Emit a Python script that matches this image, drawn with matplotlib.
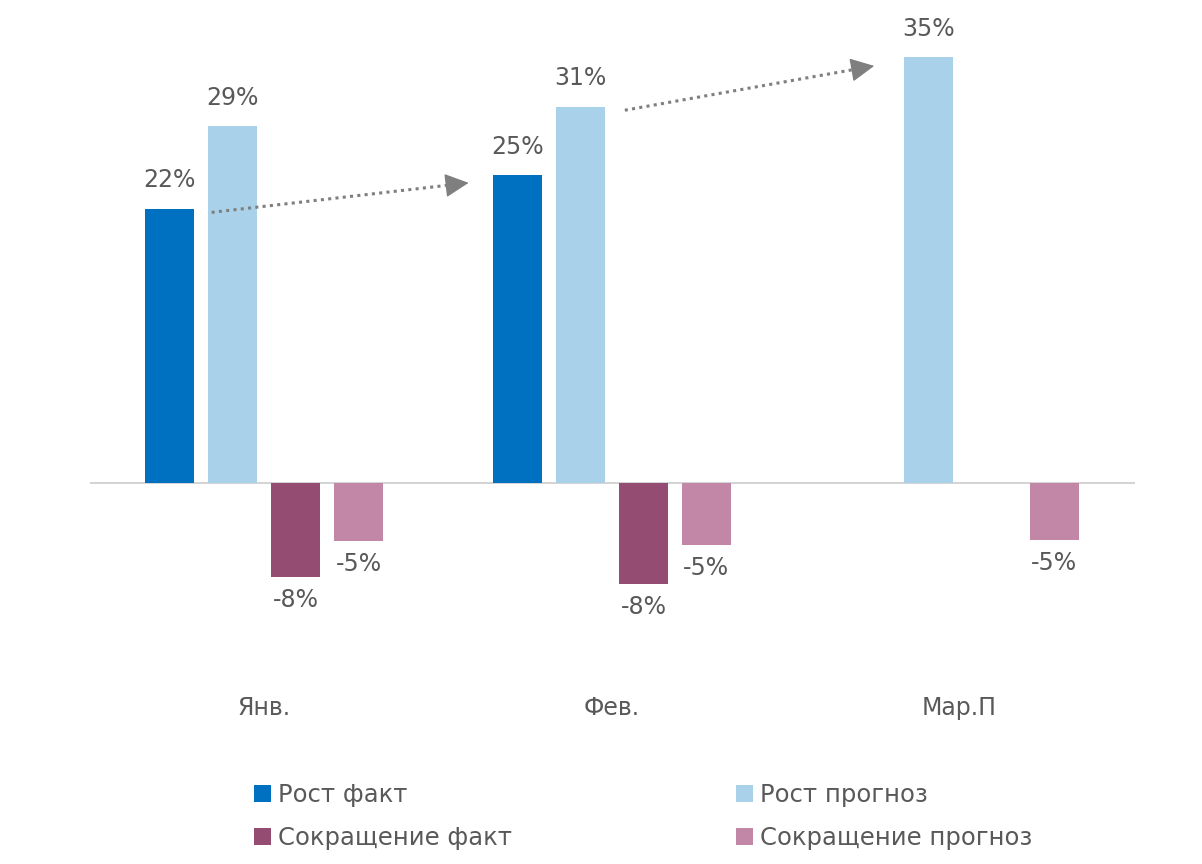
import matplotlib
matplotlib.use("Agg")
import matplotlib.pyplot as plt
import numpy as np
from matplotlib.patches import Patch

months = ["Янв.", "Фев.", "Мар.П"]
series = ["Рост факт", "Рост прогноз", "Сокращение факт", "Сокращение прогноз"]
growth_fact = [22.3, 25.0, np.nan]
growth_fcst = [29.0, 30.6, 34.6]
cut_fact = [-7.6, -8.2, np.nan]
cut_fcst = [-4.7, -5.0, -4.6]
labels_growth_fact = ["22%", "25%", ""]
labels_growth_fcst = ["29%", "31%", "35%"]
labels_cut_fact = ["-8%", "-8%", ""]
labels_cut_fcst = ["-5%", "-5%", "-5%"]

COLORS = ["#0070C0", "#A9D2EA", "#944C72", "#C286A6"]
TXT = "#595959"
ARROW_C = "#7F7F7F"

plt.rcParams["font.family"] = "DejaVu Sans"

fig = plt.figure(figsize=(12.02, 8.64), dpi=100)
ax = fig.add_axes([0.0749, 0.201, 0.869, 0.776])

x = np.arange(len(months))
w = 0.141
offs = [-0.271, -0.09, 0.091, 0.272]
data = [growth_fact, growth_fcst, cut_fact, cut_fcst]
labs = [labels_growth_fact, labels_growth_fcst, labels_cut_fact, labels_cut_fcst]

for vals, lab, off, col in zip(data, labs, offs, COLORS):
    ax.bar(x + off, vals, w, color=col)
    for xi, v, t in zip(x + off, vals, lab):
        if np.isnan(v) or not t:
            continue
        if v > 0:
            ax.annotate(t, (xi, v), xytext=(0, 12), textcoords="offset points",
                        ha="center", va="bottom", fontsize=17, color=TXT)
        else:
            ax.annotate(t, (xi, v), xytext=(0, -8), textcoords="offset points",
                        ha="center", va="top", fontsize=17, color=TXT)

ax.axhline(0, color="#D0D0D0", lw=1.3, zorder=0)


def dotted_arrow(ax, start, end):
    # dotted shaft + solid triangular head
    t = 0.94
    mid = (start[0] + t * (end[0] - start[0]), start[1] + t * (end[1] - start[1]))
    ax.plot([start[0], mid[0]], [start[1], mid[1]], color=ARROW_C, lw=2.2,
            linestyle=(0, (1, 1.4)))
    ax.annotate("", xy=end, xytext=mid,
                arrowprops=dict(arrowstyle="-|>,head_length=0.6,head_width=0.3",
                                color=ARROW_C, lw=1, mutation_scale=25,
                                shrinkA=0, shrinkB=0))


dotted_arrow(ax, (x[0] + offs[1] - w / 2 + 0.01, growth_fact[0] - 0.3),
             (x[1] + offs[0] - w / 2 - 0.07, growth_fact[1] - 0.6))
dotted_arrow(ax, (x[1] + offs[1] + w / 2 + 0.057, growth_fcst[1] - 0.3),
             (x[2] + offs[1] - w / 2 - 0.085, growth_fcst[2] - 0.7))

ax.set_xlim(-0.5, 2.503)
ax.set_ylim(-16.83, 37.64)
ax.set_xticks(x)
ax.set_xticklabels(months, fontsize=17, color=TXT)
ax.tick_params(axis="x", length=0, pad=4)
ax.set_yticks([])
for s in ax.spines.values():
    s.set_visible(False)

handles = [Patch(facecolor=COLORS[i], label=series[i]) for i in (0, 2, 1, 3)]
leg = fig.legend(handles=handles, ncol=2, loc="upper left",
                 bbox_to_anchor=(0.193, 0.1185), frameon=False, fontsize=17.5,
                 handlelength=0.7, handleheight=0.7, handletextpad=0.3,
                 columnspacing=9.2, labelspacing=0.75)
for t in leg.get_texts():
    t.set_color(TXT)

fig.savefig("out.png", dpi=100)
